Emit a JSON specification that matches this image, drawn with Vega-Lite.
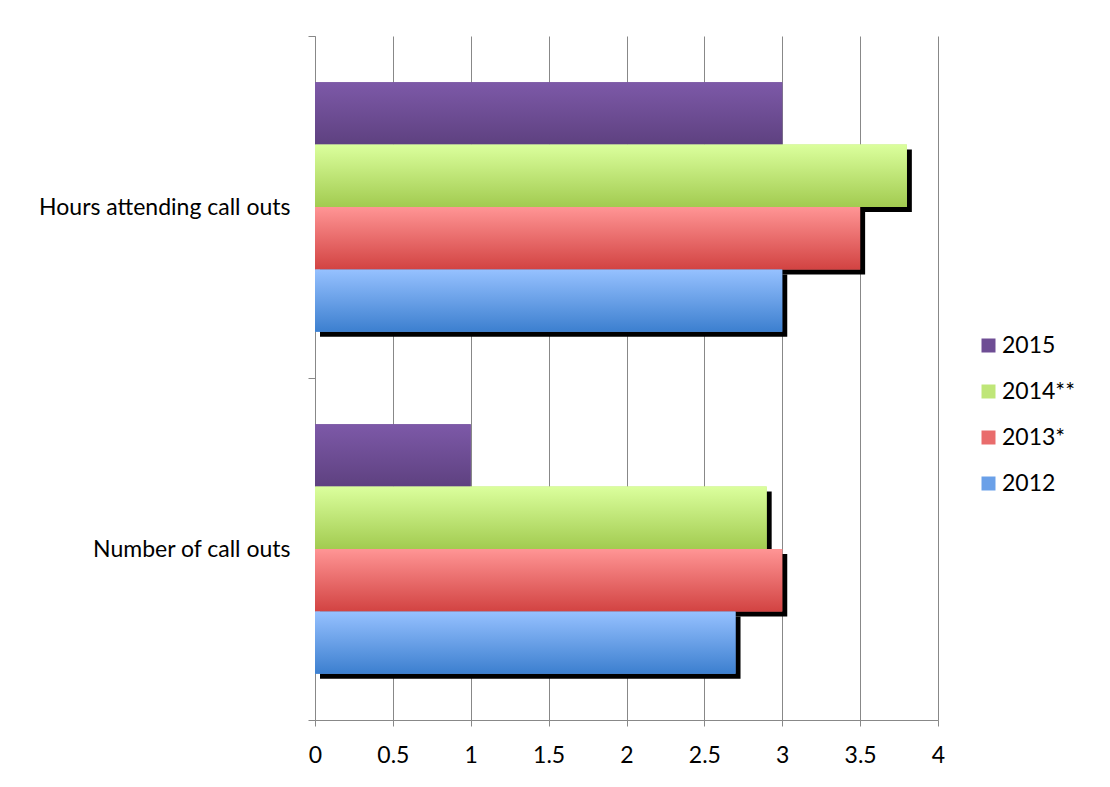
{
  "$schema": "https://vega.github.io/schema/vega-lite/v6.json",
  "width": 623,
  "height": 684,
  "autosize": "none",
  "padding": {"left": 315, "top": 36, "right": 172, "bottom": 67},
  "background": "white",
  "config": {"font": "Lato", "view": {"stroke": null}},
  "data": {"values": [
    {"measure": "Hours attending call outs", "year": "2015", "value": 3.0},
    {"measure": "Hours attending call outs", "year": "2014**", "value": 3.8},
    {"measure": "Hours attending call outs", "year": "2013*", "value": 3.5},
    {"measure": "Hours attending call outs", "year": "2012", "value": 3.0},
    {"measure": "Number of call outs", "year": "2015", "value": 1.0},
    {"measure": "Number of call outs", "year": "2014**", "value": 2.9},
    {"measure": "Number of call outs", "year": "2013*", "value": 3.0},
    {"measure": "Number of call outs", "year": "2012", "value": 2.7}
  ]},
  "encoding": {
    "y": {"field": "measure", "type": "nominal", "sort": ["Hours attending call outs", "Number of call outs"],
      "scale": {"paddingInner": 0, "paddingOuter": 0},
      "axis": {"title": null, "tickBand": "extent", "labelFontSize": 23, "labelPadding": 18, "tickSize": 7, "domainColor": "#888", "tickColor": "#888", "labelColor": "#000", "grid": false, "labelLimit": 400}},
    "x": {"field": "value", "type": "quantitative",
      "scale": {"domain": [0, 4], "nice": false},
      "axis": {"title": null, "values": [0, 0.5, 1, 1.5, 2, 2.5, 3, 3.5, 4], "format": "~g", "grid": true, "gridColor": "#888", "domainColor": "#888", "tickColor": "#888", "tickSize": 6, "labelFontSize": 23, "labelPadding": 18, "labelColor": "#000", "labelFlush": false}}
  },
  "layer": [
    {
      "transform": [{"filter": "datum.year != '2015'"}],
      "mark": {"type": "bar", "color": "#000", "xOffset": 5, "x2Offset": 5},
      "encoding": {
        "yOffset": {"field": "year", "type": "nominal", "scale": {"domain": ["2015", "2014**", "2013*", "2012"], "range": [5, 347], "paddingInner": 0, "paddingOuter": 0.74}}
      }
    },
    {
      "mark": {"type": "bar"},
      "encoding": {
        "yOffset": {"field": "year", "type": "nominal", "scale": {"domain": ["2015", "2014**", "2013*", "2012"], "range": [0, 342], "paddingInner": 0, "paddingOuter": 0.74}},
        "color": {"field": "year", "type": "nominal",
          "scale": {"domain": ["2015", "2014**", "2013*", "2012"], "range": ["#6e4d94", "#bfe678", "#e96c6c", "#6aa0e8"]},
          "legend": {"title": null, "orient": "none", "legendX": 662, "legendY": 298, "symbolType": "square", "symbolSize": 196, "labelFontSize": 23, "rowPadding": 22, "labelOffset": 2, "padding": 0, "symbolStrokeWidth": 0, "labelColor": "#000"}}
      }
    },
    {
      "transform": [{"filter": "datum.year == '2015'"}],
      "mark": {"type": "bar", "fill": {"gradient": "linear", "x1": 0, "y1": 0, "x2": 0, "y2": 1, "stops": [{"offset": 0, "color": "#7d59a8"}, {"offset": 1, "color": "#5e4180"}]}},
      "encoding": {
        "yOffset": {"field": "year", "type": "nominal", "scale": {"domain": ["2015", "2014**", "2013*", "2012"], "range": [0, 342], "paddingInner": 0, "paddingOuter": 0.74}}
      }
    },
    {
      "transform": [{"filter": "datum.year == '2014**'"}],
      "mark": {"type": "bar", "fill": {"gradient": "linear", "x1": 0, "y1": 0, "x2": 0, "y2": 1, "stops": [{"offset": 0, "color": "#dbff9d"}, {"offset": 1, "color": "#a2cb50"}]}},
      "encoding": {
        "yOffset": {"field": "year", "type": "nominal", "scale": {"domain": ["2015", "2014**", "2013*", "2012"], "range": [0, 342], "paddingInner": 0, "paddingOuter": 0.74}}
      }
    },
    {
      "transform": [{"filter": "datum.year == '2013*'"}],
      "mark": {"type": "bar", "fill": {"gradient": "linear", "x1": 0, "y1": 0, "x2": 0, "y2": 1, "stops": [{"offset": 0, "color": "#ff9595"}, {"offset": 1, "color": "#d24342"}]}},
      "encoding": {
        "yOffset": {"field": "year", "type": "nominal", "scale": {"domain": ["2015", "2014**", "2013*", "2012"], "range": [0, 342], "paddingInner": 0, "paddingOuter": 0.74}}
      }
    },
    {
      "transform": [{"filter": "datum.year == '2012'"}],
      "mark": {"type": "bar", "fill": {"gradient": "linear", "x1": 0, "y1": 0, "x2": 0, "y2": 1, "stops": [{"offset": 0, "color": "#96c1ff"}, {"offset": 1, "color": "#3c7fcf"}]}},
      "encoding": {
        "yOffset": {"field": "year", "type": "nominal", "scale": {"domain": ["2015", "2014**", "2013*", "2012"], "range": [0, 342], "paddingInner": 0, "paddingOuter": 0.74}}
      }
    }
  ],
  "resolve": {"scale": {"yOffset": "independent"}}
}
